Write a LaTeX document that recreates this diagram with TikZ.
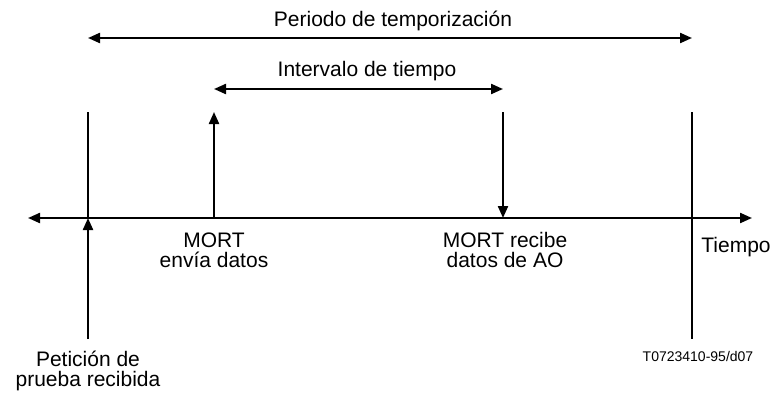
\documentclass[tikz,border=0pt]{standalone}
\usepackage{fontspec}
\setmainfont{Liberation Sans}
\usetikzlibrary{arrows.meta}

\tikzset{
    line/.style={line width=1.1pt},
    tip/.style={-{Triangle[length=6pt,width=5pt]}},
    span/.style={{Triangle[length=6pt,width=5pt]}-{Triangle[length=6pt,width=5pt]}},
    label/.style={inner sep=0pt, align=center, font=\fontsize{10.5}{10}\selectfont},
    code/.style={inner sep=0pt, font=\fontsize{7}{8}\selectfont},
}

\begin{document}
\begin{tikzpicture}[x=0.5pt, y=-0.5pt]
        \useasboundingbox (0,0) rectangle (772,396);
        % time axis
        \coordinate (axL) at (28,218);
        \coordinate (axR) at (752,218);
        \draw[line, span] (axL) -- (axR);
        % events
        \coordinate (reqT) at (88,112);
        \coordinate (reqA) at (88,218);
        \coordinate (reqB) at (88,339);
        \coordinate (sendT) at (214,112);
        \coordinate (sendA) at (214,218);
        \coordinate (recvT) at (503,112);
        \coordinate (recvA) at (503,218);
        \coordinate (endT) at (692,112);
        \coordinate (endB) at (692,339);
        \draw[line] (reqT) -- (reqA);
        \draw[line, tip] (reqB) -- (reqA); % request arrives
        \draw[line, tip] (sendA) -- (sendT); % data sent
        \draw[line, tip] (recvT) -- (recvA); % data received
        \draw[line] (endT) -- (endB);
        % spans
        \coordinate (perL) at (88,38);
        \coordinate (perR) at (692,38);
        \coordinate (intL) at (214,89);
        \coordinate (intR) at (503,89);
        \draw[line, span] (perL) -- (perR);
        \draw[line, span] (intL) -- (intR);
        % texts
        \node[label, anchor=base] (per) at (393,26) {Periodo de temporización};
        \node[label, anchor=base] (int) at (367,76) {Intervalo de tiempo};
        \node[label, anchor=north] (send) at (214,232) {MORT\\envía datos};
        \node[label, anchor=north] (recv) at (505,232) {MORT recibe\\datos de AO};
        \node[label, anchor=base west] (time) at (701,252) {Tiempo};
        \node[label, anchor=north] (req) at (88,351) {Petición de\\prueba recibida};
        \node[code, anchor=base] (ref) at (698,361) {T0723410-95/d07};
    \end{tikzpicture}
\end{document}
